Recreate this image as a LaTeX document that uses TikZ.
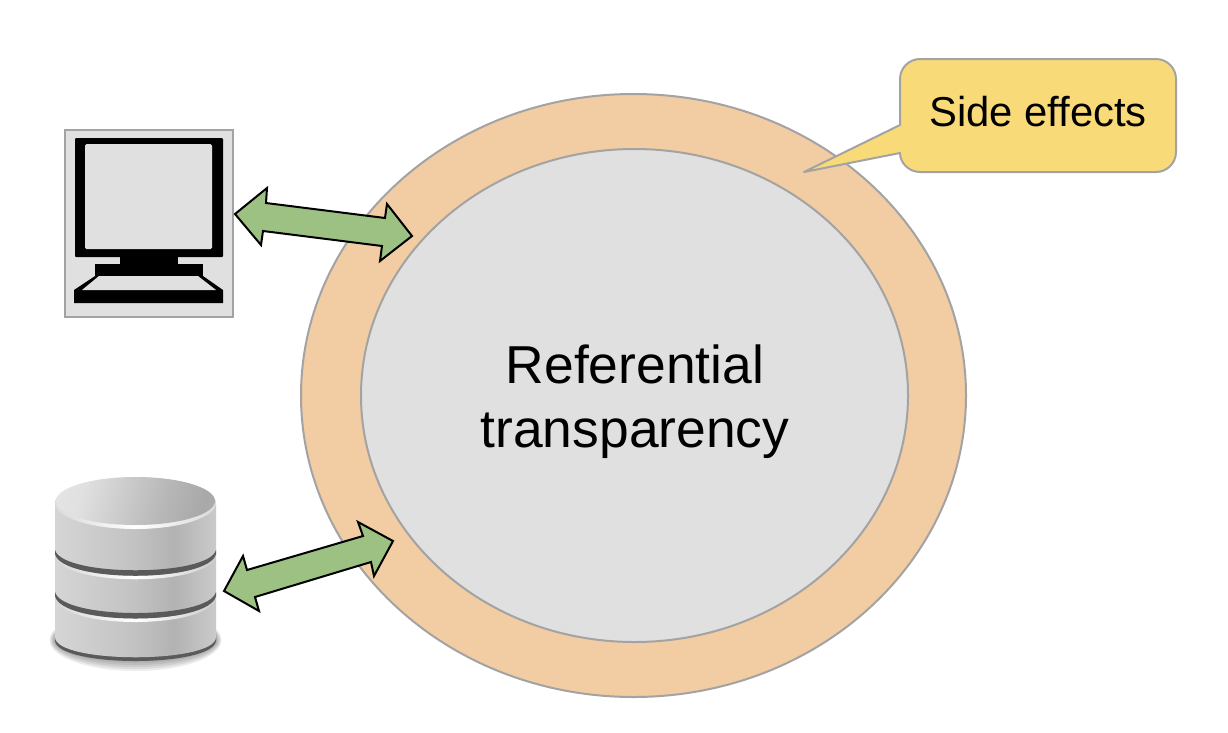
\documentclass[tikz,border=0pt]{standalone}
\usepackage{fontspec}
\setmainfont{Liberation Sans}
\usetikzlibrary{shapes.geometric}
\definecolor{edgegray}{HTML}{A3A3A3}
\definecolor{ringfill}{HTML}{F2CCA2}
\definecolor{corefill}{HTML}{E0E0E0}
\definecolor{notefill}{HTML}{F9DA78}
\definecolor{arrowfill}{HTML}{9DC183}
\definecolor{banddark}{HTML}{5A5A5A}
\pgfdeclarehorizontalshading{dbbody}{100bp}{
  color(0bp)=(white!76!black);
  color(6bp)=(white!82!black);
  color(14bp)=(white!90!black);
  color(24bp)=(white!84!black);
  color(50bp)=(white!76!black);
  color(62bp)=(white!70!black);
  color(76bp)=(white!80!black);
  color(88bp)=(white!90!black);
  color(95bp)=(white!82!black);
  color(100bp)=(white!74!black)}
\pgfdeclarehorizontalshading{dbrim}{100bp}{
  color(0bp)=(white!78!black);
  color(30bp)=(white!88!black);
  color(50bp)=(white);
  color(70bp)=(white!88!black);
  color(100bp)=(white!78!black)}
\pgfdeclarehorizontalshading{dbglint}{100bp}{
  color(0bp)=(white!76!black);
  color(25bp)=(white!84!black);
  color(50bp)=(white);
  color(75bp)=(white!80!black);
  color(100bp)=(white!74!black)}
\pgfdeclarehorizontalshading{dbtop}{100bp}{
  color(0bp)=(white!93!black);
  color(30bp)=(white!88!black);
  color(60bp)=(white!72!black);
  color(75bp)=(white!66!black);
  color(100bp)=(white!78!black)}
\tikzset{
  x=1pt,y=-1pt,
  ringshape/.style={ellipse,draw=edgegray,line width=2pt,fill=ringfill,inner sep=0pt,minimum width=665pt,minimum height=603pt},
  coreshape/.style={ellipse,draw=edgegray,line width=2pt,fill=corefill,inner sep=0pt,minimum width=547pt,minimum height=493pt},
  bigtext/.style={font=\fontsize{53.4}{64}\selectfont,align=center,text=black},
  notetext/.style={font=\fontsize{41.8}{48}\selectfont,text=black},
  notebubble/.style={draw=edgegray,line width=2pt,fill=notefill,line join=round},
  blockarrow/.style={draw=black,line width=2pt,fill=arrowfill,line join=miter,miter limit=6},
  screenbg/.style={draw=edgegray,line width=2pt,fill=corefill},
  iconblack/.style={fill=black},
  iconpale/.style={fill=corefill},
}
\begin{document}
\begin{tikzpicture}
\useasboundingbox (0,0) rectangle (1228,732);
\node[ringshape] (ring) at (633.5,395.5) {};
\node[coreshape] (core) at (634.5,395.5) {};
\node[bigtext] (corelabel) at (635,402) {Referential\\transparency};

% callout
\draw[notebubble] (900,79) .. controls (900,68) and (909,59) .. (920,59) -- (1156,59)
  .. controls (1167,59) and (1176,68) .. (1176,79) -- (1176,152)
  .. controls (1176,163) and (1167,172) .. (1156,172) -- (920,172)
  .. controls (909,172) and (900,163) .. (900,153) -- (804,172) -- (900,125) -- cycle;
\node[notetext] (note) at (1038,112) {Side effects};

% monitor
\draw[screenbg] (65,130) rectangle (233,317);
\fill[iconblack,rounded corners=1pt] (75,138) rectangle (223,257);
\fill[iconpale,rounded corners=1.5pt] (85,144) rectangle (212,249);
\fill[iconblack] (120,256) rectangle (178,265);
\fill[iconblack] (95,264) rectangle (203,277);
\fill[iconblack] (95,276) -- (203,276) -- (223,290) -- (223,303) -- (74,303) -- (74,290) -- cycle;
\fill[iconpale] (99,276) -- (198,276) -- (216,290) -- (82,290) -- cycle;

% arrows
\draw[blockarrow] (235,214) -- (267,188) -- (266,203) -- (385,218) -- (387,204) -- (412,236) -- (380,261) -- (382,246) -- (263,231) -- (261,245) -- cycle;
\draw[blockarrow] (224,591) -- (243,556) -- (247,570) -- (363,536) -- (358,522) -- (393,541) -- (374,576) -- (371,562) -- (255,597) -- (259,611) -- cycle;

% database
\foreach \rx/\ry in {86/31,85/29,84/27,83/25,82/23,81/21}{
  \fill[black,opacity=0.07] (135.5,640) ellipse[x radius=\rx,y radius=\ry];
}
\fill[banddark] (55,632) -- (55,640) .. controls (55,668) and (216,668) .. (216,640) -- (216,632) -- cycle;
\shade[shading=dbbody] (55,503) -- (55,637) .. controls (55,664) and (216,664) .. (216,637) -- (216,503) -- cycle;
% bands
\shade[shading=dbglint] (55,554) .. controls (62,583) and (209,583) .. (216,554) -- (216,556) .. controls (209,587) and (62,587) .. (55,556) -- cycle;
\fill[banddark] (55,550) .. controls (62,577) and (209,577) .. (216,550) -- (216,554) .. controls (209,583) and (62,583) .. (55,554) -- cycle;
\shade[shading=dbglint] (55,596) .. controls (62,626) and (209,626) .. (216,596) -- (216,598) .. controls (209,630) and (62,630) .. (55,598) -- cycle;
\fill[banddark] (55,592) .. controls (62,620) and (209,620) .. (216,592) -- (216,596) .. controls (209,626) and (62,626) .. (55,596) -- cycle;
% top
\shade[shading=dbrim] (135.5,503) ellipse[x radius=80.5,y radius=26];
\shade[shading=dbtop,shading angle=-15] (135.5,501) ellipse[x radius=79.5,y radius=24];
\end{tikzpicture}
\end{document}
